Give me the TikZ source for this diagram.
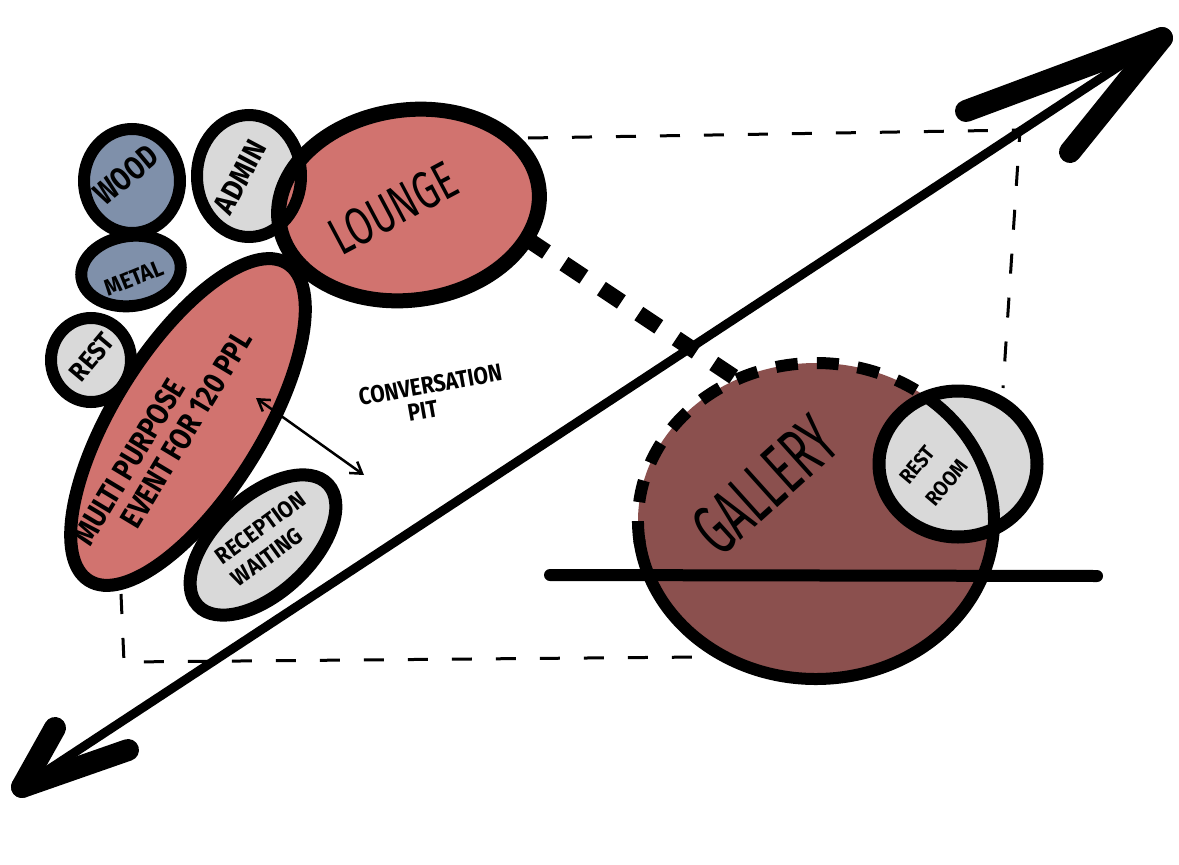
\documentclass[tikz,border=0pt]{standalone}
\usepackage{fontspec}
\setmainfont{Fira Sans}
\usetikzlibrary{shapes.geometric,arrows.meta}
\definecolor{salmon}{HTML}{D1736F}
\definecolor{bluegray}{HTML}{7F90AA}
\definecolor{lgray}{HTML}{D9D9D9}
\definecolor{gallerycol}{HTML}{8B504E}
\begin{document}
\begin{tikzpicture}[x=1pt,y=-1pt,
  bub/.style={ellipse,inner sep=0pt,outer sep=0pt},
  rim/.style={draw=black,fill=none,line width=#1},
  woodshape/.style={bub,minimum width=96pt,minimum height=104pt},
  metalshape/.style={bub,minimum width=100pt,minimum height=70pt,rotate=8},
  adminshape/.style={bub,minimum width=104pt,minimum height=122pt},
  loungeshape/.style={bub,minimum width=262pt,minimum height=190pt,rotate=8},
  restshape/.style={bub,minimum width=80pt,minimum height=84pt},
  multishape/.style={bub,minimum width=374pt,minimum height=148pt,rotate=58},
  recshape/.style={bub,minimum width=178pt,minimum height=96pt,rotate=43},
  galshape/.style={bub,minimum width=356pt,minimum height=316pt},
  rrshape/.style={bub,minimum width=158pt,minimum height=146pt},
  lab/.style={inner sep=0pt,text=black},
  dashrect/.style={line width=3pt,dash pattern=on 20pt off 24pt},
  thickdash/.style={line width=16pt,dash pattern=on 24pt off 21pt},
  galdash/.style={line width=12pt,dash pattern=on 22pt off 19pt},
  headarm/.style={line width=22pt,line cap=round},
  shaft/.style={line width=9pt,line cap=round},
  smallarrow/.style={line width=2.5pt,{Straight Barb[length=11pt,width=14pt]}-{Straight Barb[length=11pt,width=14pt]}}
]
\useasboundingbox (0,0) rectangle (1179,865);
\fill[white] (0,0) rectangle (1179,865);

% dashed outline
\coordinate (rtl) at (528,138);
\coordinate (rtr) at (1020,130);
\coordinate (rbr) at (1003,388);
\coordinate (lt) at (121,594);
\coordinate (lb) at (124,662);
\coordinate (bb) at (702,657);
\draw[dashrect] (rtl) -- (rtr) -- (rbr);
\draw[dashrect] (lt) -- (lb) -- (bb);

% fills
\node[woodshape,fill=bluegray] (wood) at (132,181) {};
\node[metalshape,fill=bluegray] (metal) at (131,271) {};
\node[adminshape,fill=lgray] (admin) at (249,176) {};
\node[loungeshape,fill=salmon] (lounge) at (409,205) {};
\node[restshape,fill=lgray] (rest) at (91,360) {};
\node[multishape,fill=salmon] (multi) at (188,422) {};
\node[recshape,fill=lgray] (reception) at (263,545) {};

% rims
\node[woodshape,rim=12pt] at (wood.center) {};
\node[metalshape,rim=12pt] at (metal.center) {};
\node[adminshape,rim=12pt] at (admin.center) {};
\node[loungeshape,rim=15pt] at (lounge.center) {};
\node[restshape,rim=12pt] at (rest.center) {};
\node[multishape,rim=13pt] at (multi.center) {};
\node[recshape,rim=13pt] at (reception.center) {};

% gallery and rest room
\node[galshape,fill=gallerycol] (gallery) at (816,521) {};
\draw[galdash] ([shift={(172:178 and 158)}]gallery.center) arc[start angle=172,end angle=308,x radius=178,y radius=158];
\node[rrshape,fill=lgray] (restroom) at (958,464) {};
\draw[line width=12pt] ([shift={(-53:178 and 158)}]gallery.center) arc[start angle=-53,end angle=173,x radius=178,y radius=158];
\node[rrshape,rim=13pt] at (restroom.center) {};

% horizontal line
\coordinate (hl) at (550,575);
\coordinate (hr) at (1097,576);
\draw[line width=12pt,line cap=round] (hl) -- (hr);

% lounge to gallery connector
\draw[thickdash] (lounge.-24) -- (gallery.119);

% small double arrow
\coordinate (sa1) at (256,398);
\coordinate (sa2) at (364,475);
\draw[smallarrow] (sa1) -- (sa2);

% big diagonal arrow
\coordinate (llt) at (22,787);
\coordinate (urt) at (1162,38);
\coordinate (lla) at (55,728);
\coordinate (llb) at (128,750);
\coordinate (ura) at (966,111);
\coordinate (urb) at (1070,152);
\draw[shaft] (llt) -- (urt);
\draw[headarm] (urt) -- (ura);
\draw[headarm] (urt) -- (urb);
\draw[headarm] (llt) -- (lla);
\draw[headarm] (llt) -- (llb);

% labels
\node[lab,rotate=40] (tWood) at (126,175) {\fontsize{25}{25}\selectfont\bfseries\scalebox{1}[1.3]{WOOD}};
\node[lab,rotate=62] (tAdmin) at (240,177) {\fontsize{26}{26}\selectfont\bfseries\scalebox{1}[1.15]{ADMIN}};
\node[lab,rotate=22] (tMetal) at (134,278) {\fontsize{21}{21}\selectfont\bfseries\scalebox{1}[1.1]{METAL}};
\node[lab,rotate=50] (tRest) at (92,357) {\fontsize{24}{24}\selectfont\bfseries\scalebox{1}[1.1]{REST}};
\node[lab,rotate=28] (tLounge) at (393,208) {\fontsize{44}{44}\selectfont\scalebox{0.85}[1.2]{LOUNGE}};
\node[lab,rotate=59] (tMulti) at (166,440) {\fontsize{26}{27}\selectfont\bfseries\scalebox{1}[1.2]{\begin{tabular}{@{}l@{}}MULTI PURPOSE\\\hspace*{39pt}EVENT FOR 120 PPL\end{tabular}}};
\node[lab,rotate=36] (tRec) at (270,541) {\fontsize{21}{25}\selectfont\bfseries\scalebox{1}[1.1]{\begin{tabular}{@{}l@{}}RECEPTION\\WAITING\end{tabular}}};
\node[lab,rotate=42] (tGallery) at (765,485) {\fontsize{50}{50}\selectfont\scalebox{0.85}[1.45]{GALLERY}};
\node[lab,rotate=50] (tRR) at (934,472) {\fontsize{19}{31}\selectfont\bfseries\scalebox{1}[1.1]{\begin{tabular}{@{}l@{}}REST\\ROOM\end{tabular}}};
\node[lab,rotate=10] (tConv) at (433,400) {\fontsize{21}{21}\selectfont\bfseries\scalebox{1}[1.15]{\begin{tabular}{@{}c@{}}CONVERSATION\\PIT\hspace*{24pt}\end{tabular}}};
\end{tikzpicture}
\end{document}
